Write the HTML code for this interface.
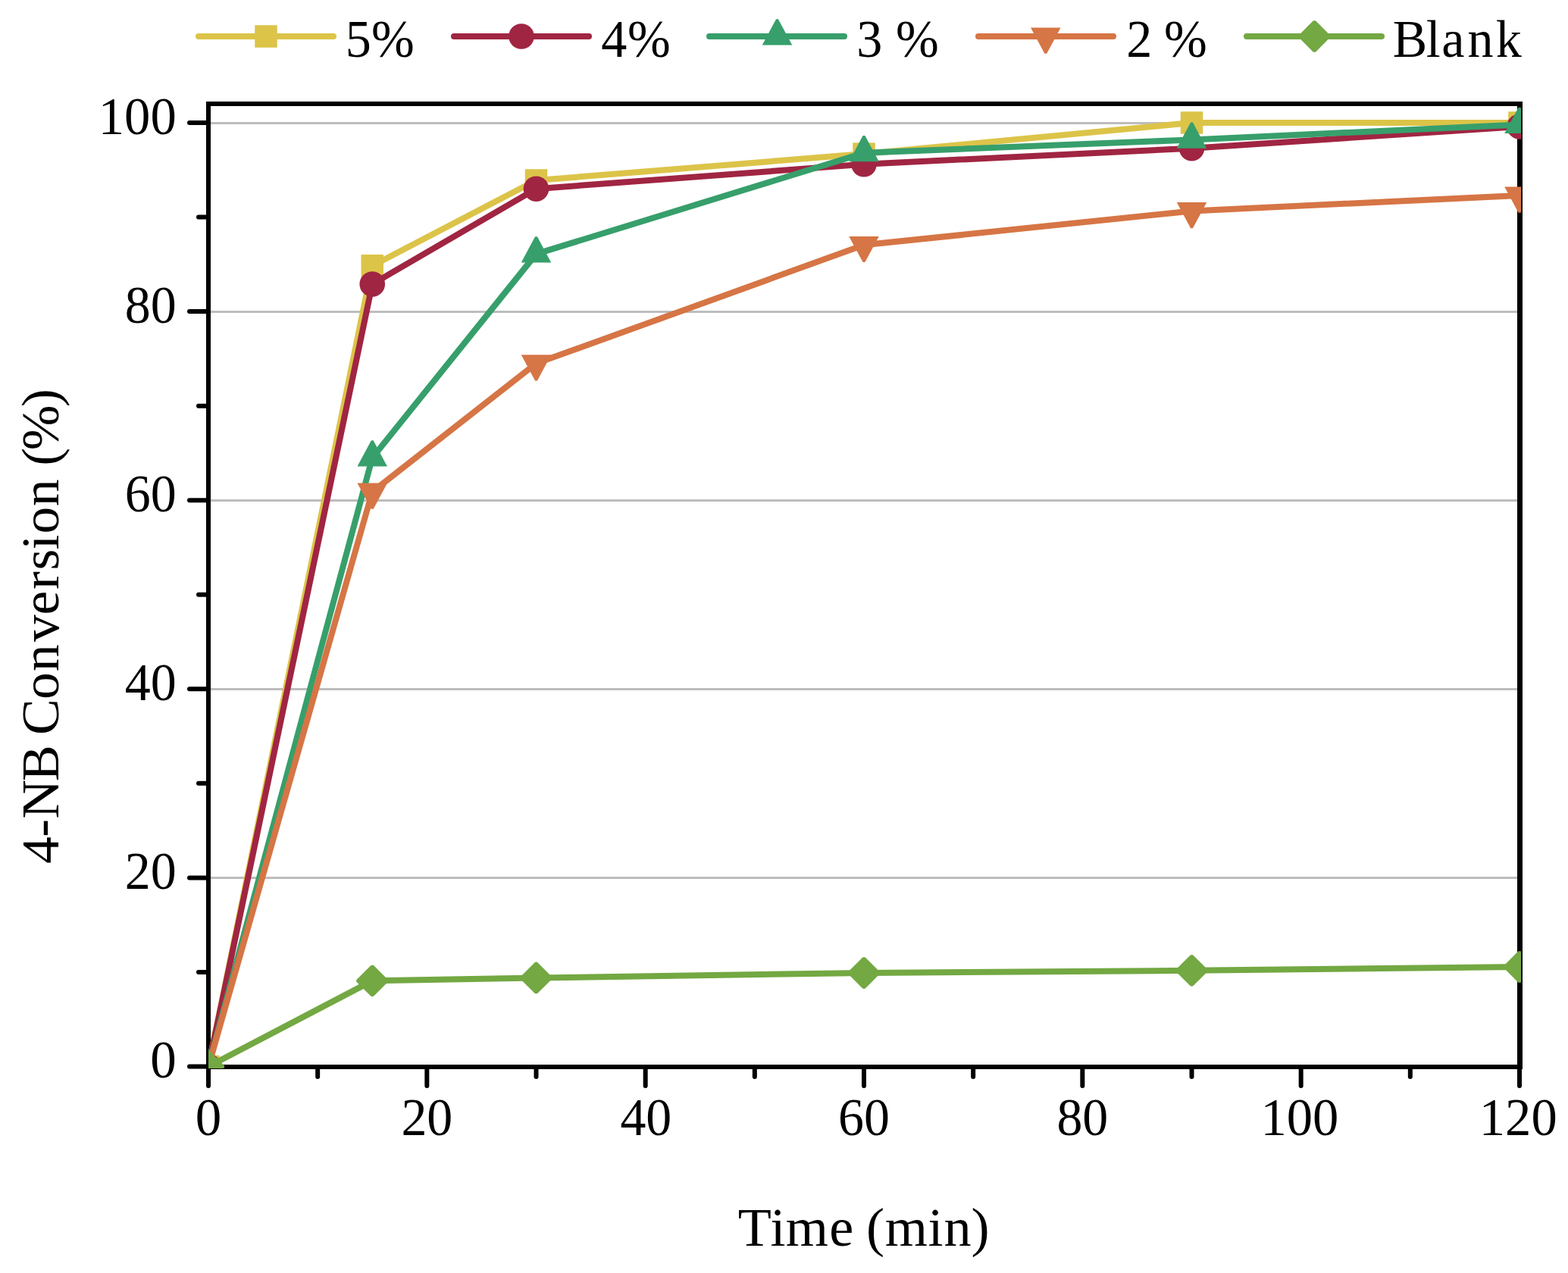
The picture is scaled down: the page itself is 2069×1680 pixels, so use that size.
<!DOCTYPE html>
<html><head><meta charset="utf-8"><title>4-NB Conversion</title>
<style>
html,body{margin:0;padding:0;background:#fff;}
svg{display:block;}
text{font-family:'Liberation Serif', serif;fill:#000;}
</style></head><body>
<svg width="2069" height="1680" viewBox="0 0 2069 1680">
<rect width="2069" height="1680" fill="#fff"/>
<defs><clipPath id="pa"><rect x="275" y="137" width="1732" height="1273"/></clipPath></defs>

<line x1="278" x2="2002" y1="1158.5" y2="1158.5" stroke="#bdbdbd" stroke-width="3"/>
<line x1="278" x2="2002" y1="909.5" y2="909.5" stroke="#bdbdbd" stroke-width="3"/>
<line x1="278" x2="2002" y1="660.5" y2="660.5" stroke="#bdbdbd" stroke-width="3"/>
<line x1="278" x2="2002" y1="411.5" y2="411.5" stroke="#bdbdbd" stroke-width="3"/>
<line x1="278" x2="2002" y1="162.5" y2="162.5" stroke="#bdbdbd" stroke-width="3"/>
<path d="M272 134H2009V140H272Z M272 1405H2009V1411H272Z M272 134H278V1411H272Z M2002 134H2009V1411H2002Z" fill="#000"/>
<path d="M250 1407.50H275 M262 1282.95H275 M250 1158.40H275 M262 1033.85H275 M250 909.30H275 M262 784.75H275 M250 660.20H275 M262 535.65H275 M250 411.10H275 M262 286.55H275 M250 162.00H275 M275.00 1408V1433 M419.17 1408V1421 M563.33 1408V1433 M707.50 1408V1421 M851.67 1408V1433 M995.83 1408V1421 M1140.00 1408V1433 M1284.17 1408V1421 M1428.33 1408V1433 M1572.50 1408V1421 M1716.67 1408V1433 M1860.83 1408V1421 M2005.00 1408V1433" stroke="#000" stroke-width="6" stroke-linecap="round" fill="none"/>
<g clip-path="url(#pa)">
<polyline points="275.00,1407.50 491.25,350.69 707.50,237.98 1140.00,203.10 1572.50,162.00 2005.00,162.00" fill="none" stroke="#dcc449" stroke-width="8" stroke-linejoin="round" stroke-linecap="round"/>
<rect x="260.25" y="1392.75" width="29.5" height="29.5" fill="#dcc449"/>
<rect x="476.50" y="335.94" width="29.5" height="29.5" fill="#dcc449"/>
<rect x="692.75" y="223.23" width="29.5" height="29.5" fill="#dcc449"/>
<rect x="1125.25" y="188.35" width="29.5" height="29.5" fill="#dcc449"/>
<rect x="1557.75" y="147.25" width="29.5" height="29.5" fill="#dcc449"/>
<rect x="1990.25" y="147.25" width="29.5" height="29.5" fill="#dcc449"/>
<polyline points="275.00,1407.50 491.25,374.98 707.50,249.18 1140.00,216.80 1572.50,195.63 2005.00,166.98" fill="none" stroke="#a02542" stroke-width="8" stroke-linejoin="round" stroke-linecap="round"/>
<circle cx="275.00" cy="1407.50" r="16.8" fill="#a02542"/>
<circle cx="491.25" cy="374.98" r="16.8" fill="#a02542"/>
<circle cx="707.50" cy="249.18" r="16.8" fill="#a02542"/>
<circle cx="1140.00" cy="216.80" r="16.8" fill="#a02542"/>
<circle cx="1572.50" cy="195.63" r="16.8" fill="#a02542"/>
<circle cx="2005.00" cy="166.98" r="16.8" fill="#a02542"/>
<polyline points="275.00,1407.50 491.25,604.15 707.50,335.12 1140.00,201.86 1572.50,184.42 2005.00,164.49" fill="none" stroke="#379f6b" stroke-width="8" stroke-linejoin="round" stroke-linecap="round"/>
<path d="M273.60 1384.70H276.40L294.75 1418.90H255.25Z" fill="#379f6b"/>
<path d="M489.85 581.35H492.65L511.00 615.55H471.50Z" fill="#379f6b"/>
<path d="M706.10 312.32H708.90L727.25 346.52H687.75Z" fill="#379f6b"/>
<path d="M1138.60 179.06H1141.40L1159.75 213.26H1120.25Z" fill="#379f6b"/>
<path d="M1571.10 161.62H1573.90L1592.25 195.82H1552.75Z" fill="#379f6b"/>
<path d="M2003.60 141.69H2006.40L2024.75 175.89H1985.25Z" fill="#379f6b"/>
<polyline points="275.00,1407.50 491.25,648.99 707.50,479.60 1140.00,323.29 1572.50,278.45 2005.00,257.90" fill="none" stroke="#d67545" stroke-width="8" stroke-linejoin="round" stroke-linecap="round"/>
<path d="M273.60 1430.30H276.40L294.75 1396.10H255.25Z" fill="#d67545"/>
<path d="M489.85 671.79H492.65L511.00 637.59H471.50Z" fill="#d67545"/>
<path d="M706.10 502.40H708.90L727.25 468.20H687.75Z" fill="#d67545"/>
<path d="M1138.60 346.09H1141.40L1159.75 311.89H1120.25Z" fill="#d67545"/>
<path d="M1571.10 301.25H1573.90L1592.25 267.05H1552.75Z" fill="#d67545"/>
<path d="M2003.60 280.70H2006.40L2024.75 246.50H1985.25Z" fill="#d67545"/>
<polyline points="275.00,1407.50 491.25,1294.41 707.50,1290.55 1140.00,1283.95 1572.50,1280.83 2005.00,1275.98" fill="none" stroke="#73a842" stroke-width="8" stroke-linejoin="round" stroke-linecap="round"/>
<path d="M273.50 1386.80L276.50 1386.80L296.10 1406.40L296.10 1408.60L276.50 1428.20L273.50 1428.20L253.90 1408.60L253.90 1406.40Z" fill="#73a842"/>
<path d="M489.75 1273.71L492.75 1273.71L512.35 1293.31L512.35 1295.51L492.75 1315.11L489.75 1315.11L470.15 1295.51L470.15 1293.31Z" fill="#73a842"/>
<path d="M706.00 1269.85L709.00 1269.85L728.60 1289.45L728.60 1291.65L709.00 1311.25L706.00 1311.25L686.40 1291.65L686.40 1289.45Z" fill="#73a842"/>
<path d="M1138.50 1263.25L1141.50 1263.25L1161.10 1282.85L1161.10 1285.05L1141.50 1304.65L1138.50 1304.65L1118.90 1285.05L1118.90 1282.85Z" fill="#73a842"/>
<path d="M1571.00 1260.13L1574.00 1260.13L1593.60 1279.73L1593.60 1281.93L1574.00 1301.53L1571.00 1301.53L1551.40 1281.93L1551.40 1279.73Z" fill="#73a842"/>
<path d="M2003.50 1255.28L2006.50 1255.28L2026.10 1274.88L2026.10 1277.08L2006.50 1296.68L2003.50 1296.68L1983.90 1277.08L1983.90 1274.88Z" fill="#73a842"/>
</g>
<text transform="translate(198.26 1422.00) scale(1.0000 1)" font-size="69">0</text>
<text transform="translate(164.82 1172.90) scale(0.9840 1)" font-size="69">20</text>
<text transform="translate(164.82 923.80) scale(0.9840 1)" font-size="69">40</text>
<text transform="translate(164.82 674.70) scale(0.9840 1)" font-size="69">60</text>
<text transform="translate(164.82 425.60) scale(0.9840 1)" font-size="69">80</text>
<text transform="translate(129.76 176.50) scale(0.9950 1)" font-size="69">100</text>
<text transform="translate(257.75 1498.30) scale(1.0000 1)" font-size="69">0</text>
<text transform="translate(529.39 1498.30) scale(0.9840 1)" font-size="69">20</text>
<text transform="translate(818.40 1498.30) scale(0.9840 1)" font-size="69">40</text>
<text transform="translate(1106.05 1498.30) scale(0.9840 1)" font-size="69">60</text>
<text transform="translate(1394.39 1498.30) scale(0.9840 1)" font-size="69">80</text>
<text transform="translate(1663.46 1498.30) scale(0.9950 1)" font-size="69">100</text>
<text transform="translate(1951.79 1498.30) scale(0.9950 1)" font-size="69">120</text>
<text transform="translate(0 1644.20) scale(1.0170 1)" x="957.42 999.40 1019.51 1076.01 1107.53 1123.94 1148.32 1204.02 1224.77 1260.08" y="0" font-size="71">Time (min)</text>
<text transform="translate(76.9 0) rotate(-90) scale(1.0340 1)" x="-1102.48 -1068.36 -1045.04 -997.05 -950.90 -938.01 -892.64 -857.01 -819.28 -784.91 -752.41 -727.79 -701.66 -681.37 -646.18 -611.58 -594.63 -574.78 -519.44" y="0" font-size="69.2">4-NB Conversion (%)</text>
<line x1="262" x2="440" y1="48" y2="48" stroke="#dcc449" stroke-width="8" stroke-linecap="round"/>
<rect x="336.25" y="33.25" width="29.5" height="29.5" fill="#dcc449"/>
<text transform="translate(0 74.50) scale(0.9800 1)" x="465.04 500.01" y="0" font-size="69.5">5%</text>
<line x1="599" x2="777" y1="48" y2="48" stroke="#a02542" stroke-width="8" stroke-linecap="round"/>
<circle cx="688.00" cy="48.00" r="16.8" fill="#a02542"/>
<text transform="translate(0 74.50) scale(0.9800 1)" x="809.49 844.91" y="0" font-size="69.5">4%</text>
<line x1="936" x2="1114" y1="48" y2="48" stroke="#379f6b" stroke-width="8" stroke-linecap="round"/>
<path d="M1024.10 25.20H1026.90L1045.25 59.40H1005.75Z" fill="#379f6b"/>
<text transform="translate(0 74.50) scale(0.9800 1)" x="1153.25 1188.00 1206.19" y="0" font-size="69.5">3 %</text>
<line x1="1291" x2="1469" y1="48" y2="48" stroke="#d67545" stroke-width="8" stroke-linecap="round"/>
<path d="M1378.40 70.80H1381.20L1399.55 36.60H1360.05Z" fill="#d67545"/>
<text transform="translate(0 74.50) scale(0.9800 1)" x="1516.65 1551.40 1567.26" y="0" font-size="69.5">2 %</text>
<line x1="1645" x2="1823" y1="48" y2="48" stroke="#73a842" stroke-width="8" stroke-linecap="round"/>
<path d="M1732.90 27.30L1735.90 27.30L1755.50 46.90L1755.50 49.10L1735.90 68.70L1732.90 68.70L1713.30 49.10L1713.30 46.90Z" fill="#73a842"/>
<text transform="translate(0 74.50) scale(0.9800 1)" x="1875.17 1920.27 1940.98 1976.05 2013.97" y="0" font-size="69.5">Blank</text>
</svg>
</body></html>
